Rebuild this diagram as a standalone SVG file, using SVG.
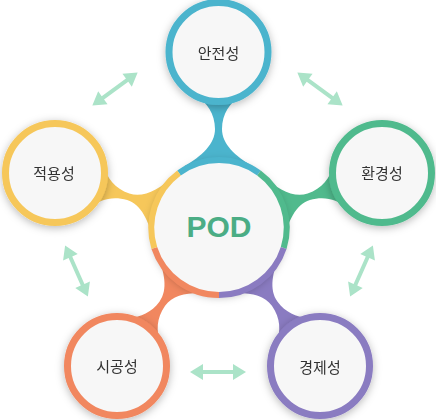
<svg xmlns="http://www.w3.org/2000/svg" xmlns:xlink="http://www.w3.org/1999/xlink" width="436" height="420" viewBox="0 0 436 420">
<defs>
<style>
.lbl{font-family:"Noto Sans CJK KR","Noto Sans",sans-serif;font-size:15px;fill:#333;text-anchor:middle}
.pod{font-family:"Liberation Sans","Arial",sans-serif;font-weight:bold;font-size:30px;fill:#4bad85;text-anchor:middle}
.face{fill:#f7f7f7}
.ring{fill:none;stroke-width:7}
.seg{fill:none;stroke-width:6}
.arr{fill:#abe3c8}
</style>
<filter id="sh" x="-40%" y="-40%" width="180%" height="180%">
<feDropShadow dx="0" dy="2" stdDeviation="4" flood-color="#000" flood-opacity="0.28"/>
</filter>
<path id="neck" d="M21.1,45.3 C12,50 3.5,62 3.5,77 C3.5,92 16.7,104.1 34,114.1 L0,140 L-34,114.1 C-16.7,104.1 -3.5,92 -3.5,77 C-3.5,62 -12,50 -21.1,45.3 L0,20 Z"/>
<path id="arrow" d="M-28,0 L-15,-8 L-15,-2 L15,-2 L15,-8 L28,0 L15,8 L15,2 L-15,2 L-15,8 Z"/>
</defs>
<rect width="436" height="420" fill="#fff"/>
<g id="connectors">
<use xlink:href="#neck" transform="translate(218.5,52)" fill="#4bb4cd"/>
<use xlink:href="#neck" transform="translate(382,173) rotate(72)" fill="#50ba8d"/>
<use xlink:href="#neck" transform="translate(320,366) rotate(144)" fill="#8a7bc1"/>
<use xlink:href="#neck" transform="translate(117,366) rotate(-144)" fill="#f1875f"/>
<use xlink:href="#neck" transform="translate(55,173) rotate(-72)" fill="#f6c75a"/>
<use xlink:href="#arrow" class="arr" transform="translate(115,89) rotate(-36)"/>
<use xlink:href="#arrow" class="arr" transform="translate(320,89) rotate(36)"/>
<use xlink:href="#arrow" class="arr" transform="translate(361.5,271) rotate(-66)"/>
<use xlink:href="#arrow" class="arr" transform="translate(218,372)"/>
<use xlink:href="#arrow" class="arr" transform="translate(76.5,271) rotate(66)"/>
</g>
<g id="node-center">
<circle cx="219" cy="227" r="68" class="face" filter="url(#sh)"/>
<path class="seg" stroke="#4bb4cd" d="M179.03,172.99 A68,68 0 0 1 258.97,172.99"/>
<path class="seg" stroke="#50ba8d" d="M258.97,172.99 A68,68 0 0 1 283.67,248.01"/>
<path class="seg" stroke="#8a7bc1" d="M283.67,248.01 A68,68 0 0 1 219,295"/>
<path class="seg" stroke="#f1875f" d="M219,295 A68,68 0 0 1 154.33,248.01"/>
<path class="seg" stroke="#f6c75a" d="M154.33,248.01 A68,68 0 0 1 179.03,172.99"/>
<text x="219" y="237" class="pod">POD</text>
</g>
<g id="node-safety" filter="url(#sh)">
<circle cx="218.5" cy="52" r="49.5" class="face"/>
<circle cx="218.5" cy="52" r="49.5" class="ring" stroke="#4bb4cd"/>
<text x="218.5" y="59" class="lbl">안전성</text>
</g>
<g id="node-environment" filter="url(#sh)">
<circle cx="382" cy="173" r="49.5" class="face"/>
<circle cx="382" cy="173" r="49.5" class="ring" stroke="#50ba8d"/>
<text x="382" y="179" class="lbl">환경성</text>
</g>
<g id="node-economy" filter="url(#sh)">
<circle cx="320" cy="366" r="49.5" class="face"/>
<circle cx="320" cy="366" r="49.5" class="ring" stroke="#8a7bc1"/>
<text x="320" y="373" class="lbl">경제성</text>
</g>
<g id="node-construction" filter="url(#sh)">
<circle cx="117" cy="366" r="49.5" class="face"/>
<circle cx="117" cy="366" r="49.5" class="ring" stroke="#f1875f"/>
<text x="117" y="372" class="lbl">시공성</text>
</g>
<g id="node-applicability" filter="url(#sh)">
<circle cx="55" cy="173" r="49.5" class="face"/>
<circle cx="55" cy="173" r="49.5" class="ring" stroke="#f6c75a"/>
<text x="54" y="179" class="lbl">적용성</text>
</g>
</svg>
